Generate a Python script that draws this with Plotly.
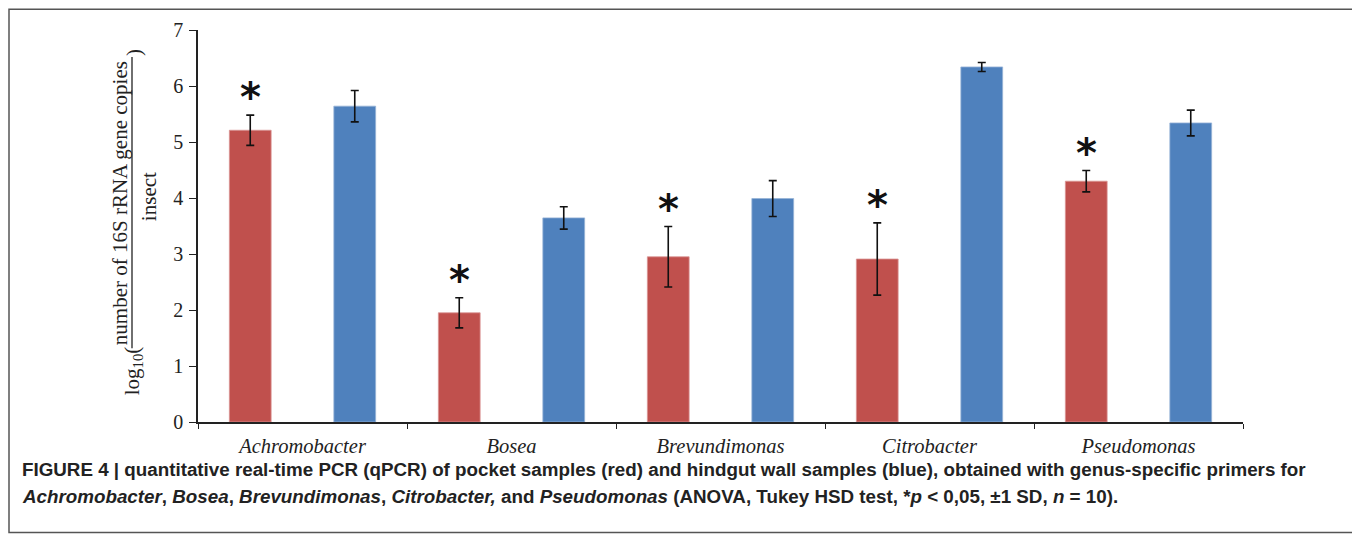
import plotly.graph_objects as go

# ---- data ----
genera = ["Achromobacter", "Bosea", "Brevundimonas", "Citrobacter", "Pseudomonas"]
pocket = [5.21, 1.95, 2.95, 2.91, 4.30]          # red
pocket_sd = [0.27, 0.27, 0.54, 0.645, 0.19]
hindgut = [5.64, 3.645, 3.99, 6.34, 5.34]        # blue
hindgut_sd = [0.28, 0.20, 0.32, 0.08, 0.23]
significant = [True, True, True, True, True]
y_ticks = [0, 1, 2, 3, 4, 5, 6, 7]

# ---- layout geometry (page pixels; the page body adds an 8px offset) ----
OFF = 8
W, H = 1360 - OFF, 540 - OFF
PLOT_L, PLOT_R, PLOT_T, PLOT_B = 198, 1243, 30, 421.7   # page pixels
L = PLOT_L - OFF
T = PLOT_T - OFF
R = W - (PLOT_R - OFF)
B = H - (PLOT_B - OFF)
PW, PH = PLOT_R - PLOT_L, PLOT_B - PLOT_T


def px(xp):
    return (xp - PLOT_L) / PW


def py(yp):
    return (PLOT_B - yp) / PH


RED = "#C0504D"
BLUE = "#4F81BD"
SERIF = "Liberation Serif, DejaVu Serif, serif"
SANS = "Liberation Sans, Arial, sans-serif"

fig = go.Figure()
fig.add_bar(
    x=genera, y=pocket, name="pocket",
    marker=dict(color=RED, line=dict(color="#D99694", width=0.8)),
    error_y=dict(type="data", array=pocket_sd, color="#111111", thickness=1.6, width=4),
)
fig.add_bar(
    x=genera, y=hindgut, name="hindgut wall",
    marker=dict(color=BLUE, line=dict(color="#95B3D7", width=0.8)),
    error_y=dict(type="data", array=hindgut_sd, color="#111111", thickness=1.6, width=4),
)

annotations = []
# significance asterisks above the red bars
for g, v, s, sig in zip(genera, pocket, pocket_sd, significant):
    if sig:
        annotations.append(dict(
            x=g, y=v + s, xref="x", yref="y", text="<b>*</b>", showarrow=False,
            xshift=-52, yshift=18, yanchor="middle",
            font=dict(family="DejaVu Sans", size=40, color="#111111"),
        ))

# y-axis title built as a rotated fraction
annotations += [
    dict(x=px(120), y=py(203), xref="paper", yref="paper", text="number of 16S rRNA gene copies",
         textangle=-90, showarrow=False, xanchor="center", yanchor="middle",
         font=dict(family=SERIF, size=21, color="#222222")),
    dict(x=px(149), y=py(197), xref="paper", yref="paper", text="insect",
         textangle=-90, showarrow=False, xanchor="center", yanchor="middle",
         font=dict(family=SERIF, size=21, color="#222222")),
    dict(x=px(133), y=py(371), xref="paper", yref="paper", text="log<sub>10</sub>(",
         textangle=-90, showarrow=False, xanchor="center", yanchor="middle",
         font=dict(family=SERIF, size=21, color="#222222")),
    dict(x=px(134), y=py(53), xref="paper", yref="paper", text=")",
         textangle=-90, showarrow=False, xanchor="center", yanchor="middle",
         font=dict(family=SERIF, size=21, color="#222222")),
    # caption
    dict(x=px(20), y=py(469), xref="paper", yref="paper", xanchor="left", yanchor="middle",
         showarrow=False, align="left",
         text="<b>FIGURE 4 | quantitative real-time PCR (qPCR) of pocket samples (red) and hindgut wall samples (blue), obtained with genus-specific primers for</b>",
         font=dict(family=SANS, size=18.8, color="#222222")),
    dict(x=px(20), y=py(496), xref="paper", yref="paper", xanchor="left", yanchor="middle",
         showarrow=False, align="left",
         text="<b><i>Achromobacter</i>, <i>Bosea</i>, <i>Brevundimonas</i>, <i>Citrobacter,</i> and <i>Pseudomonas</i> (ANOVA, Tukey HSD test, *<i>p</i> &lt; 0,05, ±1 SD, <i>n</i> = 10).</b>",
         font=dict(family=SANS, size=18.8, color="#222222")),
]

shapes = [
    # fraction bar of the y title
    dict(type="line", xref="paper", yref="paper", x0=px(132), x1=px(132), y0=py(57), y1=py(348),
         line=dict(color="#222222", width=1.3)),
    # outer frame
    dict(type="rect", xref="paper", yref="paper", x0=px(9), x1=px(1355), y0=py(9.2), y1=py(532),
         line=dict(color="#555555", width=1.5)),
]

fig.update_layout(
    width=W, height=H,
    margin=dict(l=L, r=R, t=T, b=B, pad=0),
    paper_bgcolor="white", plot_bgcolor="white",
    barmode="group", bargap=0.0, bargroupgap=0.6,
    showlegend=False,
    annotations=annotations, shapes=shapes,
    xaxis=dict(
        type="category", showline=True, linecolor="#222222", linewidth=1.5,
        ticks="outside", tickson="boundaries", ticklen=5, tickcolor="#222222", tickwidth=1.3,
        tickfont=dict(family=SERIF, size=20.5, color="#222222"),
        tickvals=genera, ticktext=["<i>%s</i>" % g for g in genera],
        showgrid=False, zeroline=False, fixedrange=True, ticklabelstandoff=5,
    ),
    yaxis=dict(
        range=[0, 7], tickvals=y_ticks, showline=True, linecolor="#222222", linewidth=1.5,
        ticks="outside", ticklen=7, tickcolor="#222222", tickwidth=1.3,
        tickfont=dict(family=SERIF, size=20, color="#222222"),
        showgrid=False, zeroline=False, fixedrange=True, ticklabelstandoff=2,
    ),
)

fig.write_html("out.html")
